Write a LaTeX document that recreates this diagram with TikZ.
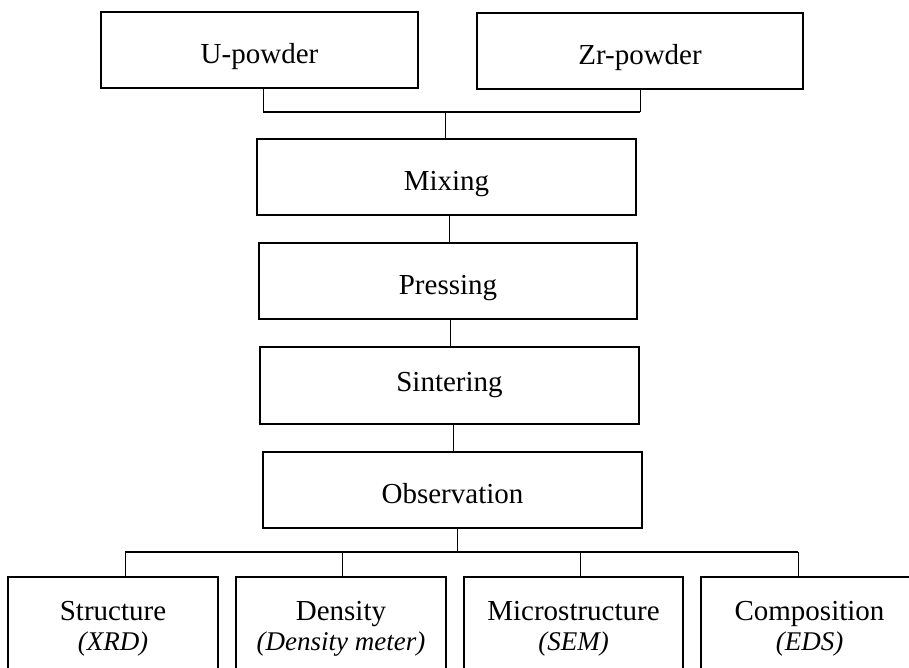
\documentclass[tikz,border=0pt]{standalone}
\usepackage{fontspec}
\setmainfont{Liberation Serif}
\begin{document}
\begin{tikzpicture}[x=1pt,y=-1pt,
  frame/.style={draw=black,line width=1.8pt,fill=white,inner sep=0pt},
  stagebox/.style={frame,minimum width=#1,minimum height=76pt,
    font=\fontsize{29}{30.5}\selectfont,text height=28pt,text depth=1.4pt},
  stagebox/.default=379pt,
  testbox/.style={frame,anchor=north,minimum width=#1,minimum height=104.1pt,
    align=center,font=\fontsize{29}{30.5}\selectfont},
  stem/.style={draw=black,line width=1pt},
  bus/.style={draw=black,line width=1.6pt},
]
\useasboundingbox (0,0) rectangle (909,668);
\fill[white] (0,0) rectangle (909,668);
\clip (0,0) rectangle (909,668);

% raw materials
\node[stagebox=317pt] (u)  at (259.5,50) {U-powder};
\node[stagebox=326pt] (zr) at (640,51)   {Zr-powder};

% process chain
\node[stagebox] (mix) at (446.5,177) {Mixing};
\node[stagebox=378pt] (pr) at (448,281) {Pressing};
\node[stagebox,minimum height=77pt,text height=20pt,text depth=7.6pt] (si) at (449.5,385.5) {Sintering};
\node[stagebox] (ob) at (452.5,490) {Observation};

% analyses
\newcommand{\toprow}{\rule{0pt}{22pt}}
\newcommand{\botrow}{\rule[-9pt]{0pt}{9pt}}
\node[testbox=210pt] (s1) at (113,576)   {\toprow Structure\\{\fontsize{27}{30.5}\selectfont\itshape (XRD)\botrow}};
\node[testbox=210pt] (s2) at (341,576)   {\toprow Density\\{\fontsize{27}{30.5}\selectfont\itshape (Density meter)\botrow}};
\node[testbox=219pt] (s3) at (573.5,576) {\toprow Microstructure\\{\fontsize{27}{30.5}\selectfont\itshape (SEM)\botrow}};
\node[testbox=217pt] (s4) at (809.5,576) {\toprow Composition\\{\fontsize{27}{30.5}\selectfont\itshape (EDS)\botrow}};

% junctions
\coordinate (jl)   at (263,112);
\coordinate (jr)   at (640,112);
\coordinate (jtop) at (445,112);
\coordinate (jbo)  at (457,552);
\coordinate (jb1)  at (125,552);
\coordinate (jb2)  at (342,552);
\coordinate (jb3)  at (580,552);
\coordinate (jb4)  at (798,552);

% powders into mixing
\draw[stem] ([xshift=3.5pt]u.south) -- (jl);
\draw[stem] (zr.south) -- (jr);
\draw[bus]  (jl) -- (jr);
\draw[stem] (jtop) -- (jtop |- mix.north);

% chain links
\draw[stem] ([xshift=2.5pt]mix.south) -- ([xshift=1pt]pr.north);
\draw[stem] ([xshift=2pt]pr.south) -- ([xshift=0.5pt]si.north);
\draw[stem] ([xshift=3.5pt]si.south) -- ([xshift=0.5pt]ob.north);

% observation branches
\draw[stem] ([xshift=4.5pt]ob.south) -- (jbo);
\draw[bus]  (jb1) -- (jb4);
\draw[stem] (jb1) -- (jb1 |- s1.north);
\draw[stem] (jb2) -- (jb2 |- s2.north);
\draw[stem] (jb3) -- (jb3 |- s3.north);
\draw[stem] (jb4) -- (jb4 |- s4.north);
\end{tikzpicture}
\end{document}
